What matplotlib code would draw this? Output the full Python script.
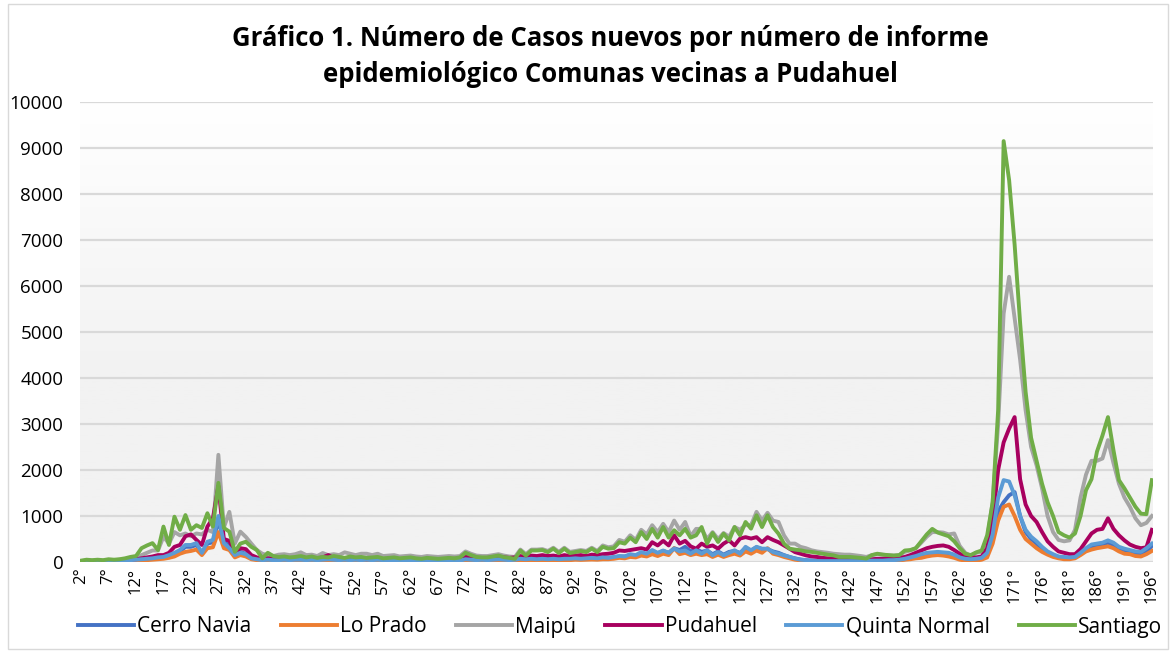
import numpy as np
import matplotlib
matplotlib.use("Agg")
import matplotlib.pyplot as plt
from matplotlib.colors import LinearSegmentedColormap
from matplotlib.patches import Rectangle

plt.rcParams['font.family'] = ['Open Sans', 'DejaVu Sans']

# numero de informe epidemiologico (one report number appears twice)
informes = [f"{n}°" for n in range(2, 166)] + ["165°"] + [f"{n}°" for n in range(166, 197)]

cerro_navia = [
    5, 5, 5, 10, 10, 10, 15, 20, 25, 30,
    40, 50, 60, 70, 90, 100, 130, 180, 230, 330,
    330, 370, 190, 400, 430, 900, 450, 350, 150, 220,
    180, 90, 60, 40, 50, 40, 40, 40, 40, 40,
    40, 40, 40, 40, 40, 50, 40, 40, 40, 40,
    40, 40, 40, 30, 40, 30, 30, 30, 30, 30,
    30, 30, 30, 30, 30, 30, 30, 30, 30, 30,
    50, 40, 40, 40, 40, 40, 50, 40, 40, 40,
    60, 50, 60, 60, 60, 60, 60, 60, 60, 60,
    70, 70, 70, 80, 80, 90, 90, 100, 120, 120,
    150, 140, 190, 170, 230, 190, 240, 200, 300, 260,
    330, 230, 280, 220, 250, 170, 230, 160, 220, 240,
    200, 300, 250, 320, 280, 280, 230, 200, 150, 110,
    80, 55, 40, 30, 25, 20, 20, 20, 20, 20,
    20, 20, 20, 20, 25, 25, 30, 35, 40, 45,
    60, 90, 120, 150, 180, 190, 200, 190, 180, 150,
    90, 60, 50, 60, 80, 150, 500, 1100, 1300, 1450,
    1520, 1000, 650, 500, 400, 280, 200, 150, 110, 90,
    90, 100, 180, 270, 330, 350, 380, 420, 370, 290,
    250, 220, 170, 150, 220, 350,
]

lo_prado = [
    0, 5, 5, 5, 5, 10, 10, 10, 15, 20,
    25, 30, 40, 50, 60, 70, 90, 120, 180, 220,
    240, 270, 150, 300, 320, 650, 300, 260, 100, 150,
    120, 60, 40, 20, 30, 20, 20, 20, 20, 20,
    20, 20, 20, 20, 25, 30, 25, 20, 20, 20,
    20, 20, 20, 15, 20, 15, 15, 15, 15, 15,
    15, 15, 15, 15, 15, 15, 15, 15, 15, 15,
    30, 25, 20, 20, 20, 25, 30, 25, 20, 25,
    40, 30, 40, 35, 40, 35, 40, 35, 40, 40,
    50, 45, 50, 55, 50, 60, 60, 70, 90, 80,
    110, 100, 140, 120, 170, 130, 180, 150, 300, 170,
    200, 150, 180, 150, 170, 110, 160, 110, 150, 180,
    140, 230, 180, 250, 200, 300, 180, 150, 110, 80,
    50, 35, 25, 20, 15, 15, 15, 15, 15, 15,
    15, 15, 15, 15, 20, 20, 20, 25, 30, 35,
    50, 60, 80, 90, 120, 140, 150, 140, 120, 90,
    50, 30, 20, 30, 50, 100, 400, 900, 1200, 1250,
    1000, 700, 500, 400, 300, 220, 160, 110, 80, 60,
    60, 80, 150, 230, 270, 300, 320, 340, 300, 230,
    180, 170, 130, 120, 170, 240,
]

maipu = [
    20, 30, 30, 40, 30, 40, 40, 50, 60, 80,
    100, 150, 200, 250, 250, 550, 400, 650, 580, 620,
    560, 620, 600, 700, 650, 2330, 750, 1090, 400, 660,
    545, 400, 260, 180, 150, 130, 160, 170, 150, 170,
    210, 150, 160, 130, 195, 150, 170, 150, 210, 180,
    150, 180, 180, 150, 180, 130, 140, 150, 120, 130,
    140, 120, 110, 130, 120, 110, 120, 130, 120, 130,
    230, 180, 140, 130, 130, 150, 170, 140, 120, 110,
    270, 170, 270, 270, 280, 240, 310, 220, 310, 220,
    240, 260, 240, 310, 240, 360, 320, 340, 480, 440,
    580, 480, 700, 600, 800, 650, 830, 650, 900, 700,
    870, 560, 720, 720, 500, 650, 500, 630, 550, 760,
    700, 810, 800, 1090, 900, 1070, 900, 870, 580, 400,
    400, 330, 300, 255, 230, 215, 200, 180, 170, 160,
    160, 145, 130, 110, 150, 170, 160, 145, 140, 150,
    220, 250, 300, 420, 550, 650, 650, 640, 600, 620,
    350, 200, 130, 200, 220, 500, 1300, 3000, 5400, 6200,
    5300, 4400, 3300, 2500, 2100, 1600, 1000, 650, 480, 450,
    470, 700, 1400, 1900, 2200, 2200, 2250, 2650, 2150, 1700,
    1400, 1200, 950, 800, 850, 1000,
]

pudahuel = [
    10, 10, 10, 20, 20, 20, 30, 30, 40, 50,
    60, 80, 100, 120, 150, 150, 200, 330, 370, 560,
    600, 480, 370, 770, 950, 1650, 500, 460, 200, 300,
    280, 150, 100, 60, 80, 70, 60, 70, 60, 70,
    80, 60, 70, 80, 100, 150, 90, 80, 70, 60,
    80, 70, 60, 70, 80, 60, 70, 60, 50, 60,
    70, 60, 50, 60, 50, 60, 50, 60, 70, 60,
    120, 100, 90, 80, 90, 100, 110, 100, 90, 100,
    130, 110, 140, 130, 150, 130, 140, 120, 150, 130,
    140, 150, 130, 160, 150, 170, 180, 200, 250, 240,
    260, 280, 300, 270, 430, 360, 460, 360, 580, 400,
    460, 340, 290, 400, 330, 360, 290, 400, 470, 360,
    510, 540, 510, 540, 430, 540, 480, 430, 360, 290,
    215, 180, 145, 120, 110, 90, 80, 75, 60, 50,
    40, 40, 40, 50, 60, 70, 70, 80, 80, 90,
    110, 150, 200, 250, 300, 330, 350, 360, 330, 260,
    180, 120, 100, 100, 120, 300, 900, 2000, 2600, 2900,
    3150, 1800, 1250, 1000, 870, 650, 450, 330, 230, 200,
    170, 170, 280, 450, 620, 700, 720, 950, 720, 580,
    470, 380, 330, 300, 320, 700,
]

quinta_normal = [
    5, 5, 10, 10, 10, 15, 20, 20, 30, 40,
    50, 60, 70, 80, 100, 110, 150, 200, 260, 370,
    370, 410, 200, 440, 480, 1000, 410, 300, 150, 200,
    170, 80, 60, 40, 50, 40, 40, 50, 40, 50,
    50, 40, 50, 40, 50, 60, 50, 40, 50, 40,
    50, 40, 50, 40, 50, 40, 30, 40, 30, 40,
    30, 40, 30, 40, 30, 30, 40, 30, 40, 30,
    60, 50, 40, 50, 40, 50, 60, 50, 40, 50,
    70, 60, 70, 60, 70, 60, 70, 60, 70, 70,
    80, 70, 80, 90, 80, 100, 90, 110, 130, 120,
    170, 150, 215, 180, 260, 200, 250, 200, 290, 230,
    250, 180, 255, 180, 255, 145, 215, 145, 200, 255,
    180, 330, 255, 330, 290, 290, 215, 180, 145, 110,
    75, 50, 40, 30, 20, 20, 20, 20, 20, 20,
    20, 20, 20, 20, 30, 30, 30, 40, 40, 50,
    70, 100, 130, 170, 200, 210, 220, 210, 200, 160,
    100, 70, 60, 70, 90, 200, 600, 1400, 1780, 1750,
    1450, 1000, 700, 550, 450, 330, 230, 170, 120, 110,
    100, 110, 200, 300, 380, 400, 420, 470, 420, 330,
    290, 260, 230, 220, 300, 400,
]

santiago = [
    30, 50, 40, 50, 40, 60, 50, 60, 80, 110,
    130, 300, 360, 410, 260, 770, 370, 985, 700, 1020,
    700, 800, 740, 1060, 770, 1720, 740, 660, 220, 400,
    440, 330, 260, 80, 200, 130, 110, 120, 100, 110,
    130, 100, 120, 90, 110, 100, 130, 110, 90, 120,
    100, 110, 90, 100, 110, 80, 90, 100, 80, 90,
    100, 80, 70, 90, 80, 70, 80, 90, 80, 100,
    200, 150, 110, 100, 100, 120, 140, 105, 90, 70,
    250, 140, 250, 250, 260, 215, 290, 195, 290, 195,
    215, 240, 215, 290, 215, 330, 290, 300, 430, 400,
    530, 430, 650, 500, 720, 530, 760, 530, 690, 580,
    720, 530, 580, 760, 400, 630, 435, 615, 470, 760,
    580, 870, 725, 1015, 760, 1015, 760, 615, 400, 290,
    270, 255, 230, 220, 200, 180, 160, 145, 110, 110,
    110, 100, 90, 75, 150, 180, 160, 150, 140, 150,
    250, 260, 300, 450, 600, 720, 640, 600, 560, 450,
    300, 180, 150, 210, 250, 580, 1300, 3300, 9150, 8300,
    6900, 5200, 3700, 2700, 2200, 1700, 1300, 1000, 650, 580,
    530, 620, 1000, 1560, 1800, 2400, 2750, 3150, 2430, 1780,
    1600, 1400, 1200, 1050, 1040, 1780,
]

comunas = ["Cerro Navia", "Lo Prado", "Maipú", "Pudahuel", "Quinta Normal", "Santiago"]
valores = [cerro_navia, lo_prado, maipu, pudahuel, quinta_normal, santiago]
colores = ["#4472C4", "#ED7D31", "#A5A5A5", "#A8005F", "#5B9BD5", "#70AD47"]

W, H = 1174, 652
fig = plt.figure(figsize=(W / 100, H / 100), dpi=100)
fig.patches.append(Rectangle((8 / W, 3 / H), 1160 / W, 645 / H, transform=fig.transFigure,
                             fill=False, edgecolor="#d9d9d9", lw=1))

ax = fig.add_axes([80 / W, 1 - 562 / H, (1153 - 80) / W, (562 - 102) / H])

# plot area gradient (white at top -> light gray)
grad = np.clip(np.linspace(0, 1.7, 256), 0, 1).reshape(-1, 1)
cmap = LinearSegmentedColormap.from_list("bg", ["#ffffff", "#f2f2f2"])
ax.imshow(grad, cmap=cmap, aspect="auto", extent=[0, 1, 0, 1],
          transform=ax.transAxes, zorder=0, origin="upper")

x = np.arange(len(informes))
for nombre, vals, c in zip(comunas, valores, colores):
    ax.plot(x, vals, color=c, lw=2.8, label=nombre, zorder=3, solid_joinstyle="round")

ax.set_xlim(-0.2, len(informes) - 0.8)
ax.set_ylim(0, 10000)
ax.set_yticks(range(0, 10001, 1000))
ax.yaxis.grid(True, color="#d9d9d9", lw=1.6, zorder=1)
ax.set_axisbelow(True)
ax.set_xticks(x[::5])
ax.set_xticklabels(informes[::5], rotation=90, fontsize=12)
ax.tick_params(axis="both", length=0, colors="#000000")
ax.tick_params(axis="y", labelsize=13.5, pad=12)
ax.tick_params(axis="x", pad=4)
for s in ax.spines.values():
    s.set_visible(False)

fig.text(610 / W, 1 - 56.5 / H,
         "Gráfico 1. Número de Casos nuevos por número de informe\n"
         "epidemiológico Comunas vecinas a Pudahuel",
         ha="center", va="center", fontsize=18.5, fontweight="bold", linespacing=1.4)

fig.legend(loc="center", bbox_to_anchor=(620 / W, 1 - 627 / H), ncol=6, frameon=False,
           fontsize=15, handlelength=2.7, handletextpad=0.15, columnspacing=1.4)

fig.savefig("out.png", dpi=100)
